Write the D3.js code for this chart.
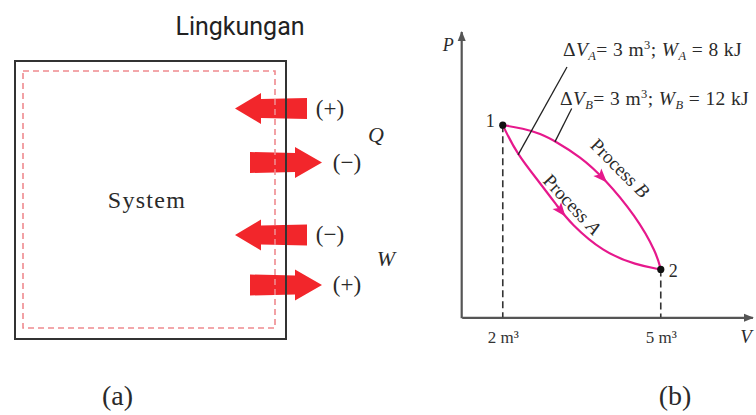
<!DOCTYPE html>
<html>
<head>
<meta charset="utf-8">
<script src="https://cdn.jsdelivr.net/npm/d3@7"></script>
<style>
  html, body { margin: 0; padding: 0; background: #fff; }
  svg { display: block; }
</style>
</head>
<body>
<svg id="fig" width="756" height="415"></svg>
<script>
// ---- (a) sign convention for heat and work ----
const flowGroups = ["Q", "W"];
const flowDirections = [["in", "out"], ["in", "out"]];
const flowSigns = [["(+)", "(\u2212)"], ["(\u2212)", "(+)"]];

// ---- (b) P–V diagram, two processes between state 1 and state 2 ----
const stateLabels = ["1", "2"];
const stateV = [2, 5];          // m³
const stateP = [5.3, 1.32];     // kPa
const processA = [[2, 5.3], [2.26, 4.52], [2.71, 3.7], [3.05, 3.04], [3.28, 2.6], [3.9, 1.8], [4.54, 1.44], [5, 1.32]];
const processB = [[2, 5.3], [2.39, 5.21], [2.71, 5.07], [3.02, 4.84], [3.47, 4.43], [3.9, 3.88], [4.54, 2.77], [4.92, 1.77], [5, 1.32]];
const tickValuesV = [2, 5];
const workA = 8, workB = 12, deltaV = 3;

const SERIF = "'Liberation Serif', 'Times New Roman', serif";
const svg = d3.select("#fig");
const magenta = "#e6188c";
const axisGrey = "#555";

function serifText(sel, size) {
  return sel.append("text")
    .style("font-family", SERIF)
    .style("font-size", size + "px")
    .style("fill", "#2a2a2a");
}

// ================= panel (a) =================
const gA = svg.append("g");

gA.append("text")
  .attr("x", 240).attr("y", 35)
  .attr("text-anchor", "middle")
  .style("font-family", "Roboto, 'Liberation Sans', sans-serif")
  .style("font-size", "25px")
  .style("fill", "#222")
  .text("Lingkungan");

// fat arrows crossing the boundary
const rowY = [[108.5, 162.5], [235, 285]];
function fatArrow(dir, cy) {
  const bh = 9.5, hh = 15.5;
  if (dir === "in") {
    const tip = 235, base = 261, tail = 307;
    return `M${tip},${cy} L${base},${cy - hh} L${base},${cy - bh} L${tail},${cy - bh - 1} L${tail},${cy + bh + 1} L${base},${cy + bh} L${base},${cy + hh} Z`;
  } else {
    const tail = 250, base = 295, tip = 322;
    return `M${tail},${cy - bh - 1} L${base},${cy - bh} L${base},${cy - hh} L${tip},${cy} L${base},${cy + hh} L${base},${cy + bh} L${tail},${cy + bh + 1} Z`;
  }
}
flowGroups.forEach((g, gi) => {
  flowDirections[gi].forEach((dir, k) => {
    const cy = rowY[gi][k];
    gA.append("path").attr("d", fatArrow(dir, cy)).attr("fill", "#f2262b");
    serifText(gA, 23)
      .attr("x", dir === "in" ? 330 : 347)
      .attr("y", cy + 7)
      .attr("text-anchor", "middle")
      .text(flowSigns[gi][k]);
  });
  serifText(gA, 22)
    .attr("x", gi === 0 ? 376 : 386)
    .attr("y", d3.mean(rowY[gi]) + 6)
    .attr("text-anchor", "middle")
    .style("font-style", "italic")
    .text(g);
});

// system boundary
gA.append("rect")
  .attr("x", 23).attr("y", 71).attr("width", 252).attr("height", 257)
  .attr("fill", "none").attr("stroke", "#ef8a8f").attr("stroke-width", 1.6)
  .attr("stroke-dasharray", "6,4");
gA.append("rect")
  .attr("x", 15).attr("y", 61).attr("width", 271).attr("height", 278)
  .attr("fill", "none").attr("stroke", "#333").attr("stroke-width", 2);

serifText(gA, 24)
  .attr("x", 147).attr("y", 208)
  .attr("text-anchor", "middle")
  .style("letter-spacing", "1.3px")
  .text("System");

serifText(gA, 28)
  .attr("x", 117.5).attr("y", 405)
  .attr("text-anchor", "middle")
  .text("(a)");

// ================= panel (b) =================
const gB = svg.append("g");
const x = d3.scaleLinear().domain([1.22, 6.74]).range([461.7, 752.4]);
const y = d3.scaleLinear().domain([0, 7.87]).range([317.3, 32]);

const defs = svg.append("defs");
defs.append("marker")
  .attr("id", "axisHead").attr("viewBox", "0 0 10 10")
  .attr("refX", 9).attr("refY", 5)
  .attr("markerWidth", 10).attr("markerHeight", 10)
  .attr("markerUnits", "userSpaceOnUse")
  .attr("orient", "auto")
  .append("path").attr("d", "M0,1 L10,5 L0,9 Z").attr("fill", axisGrey);

// axes
const xAxis = d3.axisBottom(x).tickValues(tickValuesV).tickSize(0)
  .tickFormat(d => d + " m\u00b3");
const gx = gB.append("g").attr("transform", `translate(0,${y(0)})`).call(xAxis);
gx.select(".domain").attr("stroke", axisGrey).attr("stroke-width", 2.2).attr("marker-end", "url(#axisHead)");
gx.selectAll(".tick text")
  .attr("dy", null).attr("y", 25.5)
  .style("font-family", SERIF)
  .style("font-size", "17px").style("fill", "#333");

const [pMin, pMax] = y.domain();
gB.append("line")
  .attr("x1", x(1.22)).attr("x2", x(1.22))
  .attr("y1", y(pMin) + 1).attr("y2", y(pMax))
  .attr("stroke", axisGrey).attr("stroke-width", 2.2)
  .attr("marker-end", "url(#axisHead)");

serifText(gB, 18)
  .attr("x", x(1.22) - 19).attr("y", y(pMax) + 19)
  .style("font-style", "italic")
  .text("P");
serifText(gB, 19)
  .attr("x", x(6.72) - 11).attr("y", y(0) + 26)
  .style("font-style", "italic")
  .text("V");

// dashed drop lines from each state to the V axis
stateV.forEach((v, i) => {
  gB.append("line")
    .attr("x1", x(v)).attr("x2", x(v))
    .attr("y1", y(stateP[i])).attr("y2", y(0))
    .attr("stroke", "#333").attr("stroke-width", 1.6)
    .attr("stroke-dasharray", "7,4");
});

// process curves with a direction arrow placed at a given volume
const line = d3.line().x(d => x(d[0])).y(d => y(d[1])).curve(d3.curveBasis);
function drawProcess(data, arrowV) {
  const p = gB.append("path").datum(data)
    .attr("d", line)
    .attr("fill", "none").attr("stroke", magenta).attr("stroke-width", 2.2);
  const node = p.node();
  const L = node.getTotalLength();
  const tx = x(arrowV);
  let lo = 0, hi = L;
  for (let i = 0; i < 40; i++) {
    const mid = (lo + hi) / 2;
    if (node.getPointAtLength(mid).x < tx) lo = mid; else hi = mid;
  }
  const a = node.getPointAtLength(lo);
  const b = node.getPointAtLength(lo + 1);
  const ang = Math.atan2(b.y - a.y, b.x - a.x) * 180 / Math.PI;
  gB.append("path")
    .attr("d", "M6,0 L-8,-5.5 L-5,0 L-8,5.5 Z")
    .attr("fill", magenta)
    .attr("transform", `translate(${a.x},${a.y}) rotate(${ang})`);
}
drawProcess(processA, 3.12);
drawProcess(processB, 3.9);

// rotated process names
function processLabel(txt, v, p, ang) {
  const t = serifText(gB, 19)
    .attr("transform", `translate(${x(v)},${y(p)}) rotate(${ang})`)
    .attr("text-anchor", "middle")
    .attr("dy", "0.35em");
  t.append("tspan").text("Process ");
  t.append("tspan").style("font-style", "italic").text(txt);
}
processLabel("B", 4.23, 4.12, 45);
processLabel("A", 3.32, 3.12, 47);

// state points
stateV.forEach((v, i) => {
  gB.append("circle").attr("cx", x(v)).attr("cy", y(stateP[i])).attr("r", 3.6).attr("fill", "#111");
  serifText(gB, 18)
    .attr("x", x(v) + (i === 0 ? -17 : 8)).attr("y", y(stateP[i]) + (i === 0 ? 2 : 8))
    .text(stateLabels[i]);
});

// leader lines and annotations
function annotation(sub, work, tx, ty, from, to) {
  gB.append("line")
    .attr("x1", from[0]).attr("y1", from[1]).attr("x2", to[0]).attr("y2", to[1])
    .attr("stroke", "#222").attr("stroke-width", 1.3);
  const t = serifText(gB, 19.5).attr("x", tx).attr("y", ty)
    .style("letter-spacing", "0.4px");
  t.append("tspan").text("\u0394");
  t.append("tspan").style("font-style", "italic").text("V");
  t.append("tspan").style("font-style", "italic").style("font-size", "12.5px").attr("dy", 4).text(sub);
  t.append("tspan").attr("dy", -4).text(`= ${deltaV} m`);
  t.append("tspan").style("font-size", "12.5px").attr("dy", -7).text("3");
  t.append("tspan").attr("dy", 7).text("; ");
  t.append("tspan").style("font-style", "italic").text("W");
  t.append("tspan").style("font-style", "italic").style("font-size", "12.5px").attr("dy", 4).text(sub);
  t.append("tspan").attr("dy", -4).text(` = ${work} kJ`);
}
// leader A points at process A near state 1, leader B at process B
const leadA = [x(2.29), y(4.48)];
const leadB = [x(2.99), y(4.84)];
annotation("A", workA, 563, 56, [567, 67], leadA);
annotation("B", workB, 560, 105, [571.7, 108.5], leadB);

serifText(gB, 28)
  .attr("x", 675).attr("y", 405)
  .attr("text-anchor", "middle")
  .text("(b)");
</script>
</body>
</html>
